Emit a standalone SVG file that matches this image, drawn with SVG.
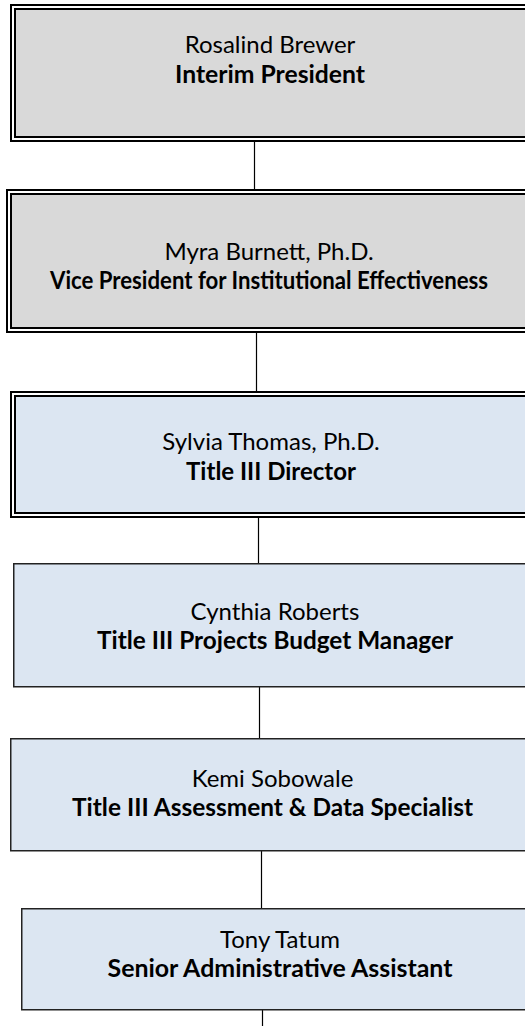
<svg xmlns="http://www.w3.org/2000/svg" width="525" height="1026" viewBox="0 0 525 1026">
<style>
.t{font-family:Lato,"Open Sans","Liberation Sans",sans-serif;font-size:24px;fill:#000;text-anchor:middle}
.b{font-weight:bold}
.gray{fill:#d9d9d9}
.blue{fill:#dce6f2}
.out{fill:none;stroke:#000;stroke-width:2}
.in{fill:none;stroke:#000;stroke-width:2}
.mid{fill:none;stroke:#fff;stroke-width:2}
.single{stroke:#222;stroke-width:1.5}
.conn{stroke:#000;stroke-width:1.2;fill:none}
</style>
<g id="connectors">
<line class="conn" x1="254.5" y1="142" x2="254.5" y2="189"/>
<line class="conn" x1="256.5" y1="333" x2="256.5" y2="391"/>
<line class="conn" x1="258.5" y1="518" x2="258.5" y2="563"/>
<line class="conn" x1="259.5" y1="687" x2="259.5" y2="738"/>
<line class="conn" x1="261.5" y1="851" x2="261.5" y2="908"/>
<line class="conn" x1="262.5" y1="1010" x2="262.5" y2="1026"/>
</g>
<g id="n1">
<rect class="gray" x="10" y="4" width="530" height="138"/>
<rect class="out" x="11" y="5" width="530" height="136"/>
<rect class="mid" x="13" y="7" width="530" height="132"/>
<rect class="in" x="15" y="9" width="530" height="128"/>
<text class="t" x="270" y="53">Rosalind Brewer</text>
<text class="t b" x="270" y="83" textLength="190" lengthAdjust="spacingAndGlyphs">Interim President</text>
</g>
<g id="n2">
<rect class="gray" x="6" y="189" width="530" height="144"/>
<rect class="out" x="7" y="190" width="530" height="142"/>
<rect class="mid" x="9" y="192" width="530" height="138"/>
<rect class="in" x="11" y="194" width="530" height="134"/>
<text class="t" x="269" y="260">Myra Burnett, Ph.D.</text>
<text class="t b" x="269" y="289" textLength="438" lengthAdjust="spacingAndGlyphs">Vice President for Institutional Effectiveness</text>
</g>
<g id="n3">
<rect class="blue" x="10" y="391" width="530" height="127"/>
<rect class="out" x="11" y="392" width="530" height="125"/>
<rect class="mid" x="13" y="394" width="530" height="121"/>
<rect class="in" x="15" y="396" width="530" height="117"/>
<text class="t" x="271" y="450">Sylvia Thomas, Ph.D.</text>
<text class="t b" x="271" y="480">Title III Director</text>
</g>
<g id="n4">
<rect class="blue single" x="13.75" y="563.75" width="530" height="123"/>
<text class="t" x="275" y="620">Cynthia Roberts</text>
<text class="t b" x="275" y="649" textLength="356" lengthAdjust="spacingAndGlyphs">Title III Projects Budget Manager</text>
</g>
<g id="n5">
<rect class="blue single" x="10.75" y="738.75" width="530" height="112"/>
<text class="t" x="272.5" y="787">Kemi Sobowale</text>
<text class="t b" x="272.5" y="816" textLength="401" lengthAdjust="spacingAndGlyphs">Title III Assessment &amp; Data Specialist</text>
</g>
<g id="n6">
<rect class="blue single" x="21.75" y="908.75" width="530" height="101"/>
<text class="t" x="280" y="948">Tony Tatum</text>
<text class="t b" x="280" y="977" textLength="345" lengthAdjust="spacingAndGlyphs">Senior Administrative Assistant</text>
</g>
</svg>
